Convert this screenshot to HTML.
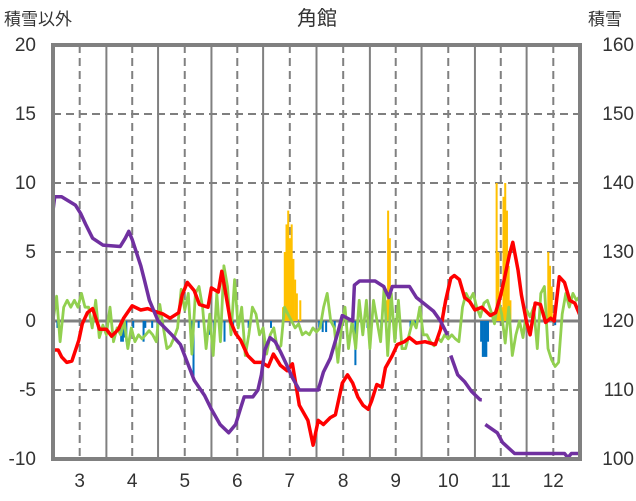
<!DOCTYPE html>
<html><head><meta charset="utf-8">
<style>
html,body{margin:0;padding:0;background:#fff;}
svg{display:block;font-family:"Liberation Sans","Noto Sans CJK JP",sans-serif;}
</style></head>
<body>
<svg id="chart" width="636" height="501" viewBox="0 0 636 501">
<g id="grid"></g>
<g id="bars"></g>
<g id="lines"></g>
<rect x="53" y="45" width="527" height="414" fill="none" stroke="#808080" stroke-width="4"/>
<g id="axes"></g>
<text x="317" y="25" font-size="20" text-anchor="middle" fill="#333">角館</text>
<text x="4" y="25" font-size="17" fill="#333">積雪以外</text>
<text x="588" y="25" font-size="17" fill="#333">積雪</text>
</svg>
<script>
const leftTicks=[20,15,10,5,0,-5,-10];
const rightTicks=[160,150,140,130,120,110,100];
const monthLabels=["3","4","5","6","7","8","9","10","11","12"];
const purpleDays=[0,1,5,13,16,19,23,29,39,42,44,46,51,53,56,61,65,69,74,78,82,88,92,97,102,106,109,111,116,119,121,123,126,129,132,135,139,143,154,157,161,165,168,174,175,178,187,192,195,197,200,207,211,216,221,225,229,null,231,235,239,243,248,249,null,251,258,261,268,297,299,301,306];
const purpleVals=[136,138,138,136.8,135.6,134,132,131,130.8,132,133,131.8,128,126,123,120,119,118,116.6,114,111.4,109.2,107.2,105,103.8,105,107.4,109,109,110,112.2,115.8,117.6,117,115.6,114,111.8,110,110,112.6,114.6,118,120.8,120,125.2,125.8,125.8,125,123.4,125,125,125,123.4,122.4,121.4,120,118,null,115,112.2,111.2,109.8,108.6,108.6,null,105,103.8,102.4,100.8,100.8,100.2,100.8,100.8];
const redDays=[0,3,5,8,11,15,17,20,23,27,31,34,38,41,46,51,55,59,64,68,73,75,78,82,85,90,92,96,98,100,103,106,109,113,117,121,125,128,132,136,139,143,148,151,154,157,161,164,168,171,174,177,180,183,185,188,191,193,197,200,204,207,211,216,222,225,228,231,233,236,239,242,245,249,254,257,260,262,265,267,270,272,275,277,280,283,286,289,291,294,297,300,303,306];
const redVals=[-2.1,-2.1,-2.6,-3,-2.9,-1.4,-0.2,0.6,0.9,-0.6,-0.6,-1.1,-0.6,0.2,1.1,0.8,0.9,0.7,0.5,0.2,0.6,1.9,2.8,2.2,1.2,1,2.4,2.1,3.6,2.2,0,-0.9,-1.4,-2.5,-3,-3,-3.3,-2.4,-3.2,-3.6,-3.1,-6.1,-7.2,-9,-7.2,-7.5,-7,-6.8,-4.5,-3.9,-4.5,-5.5,-6.1,-6.4,-5.8,-4.6,-4.8,-3.4,-2.5,-1.7,-1.5,-1.2,-1.6,-1.5,-1.7,-0.6,1.5,3.1,3.3,3,1.7,1.4,0.8,1,0.4,0.6,1.9,3,4.8,5.7,3.7,1.9,-0.1,-1,1.3,1.2,-0.1,0.2,0,3.2,2.8,1.5,1.3,0.4];
const greenVals=[0,1.8,-1.5,1,1.5,1,1.5,1,2,1,1,-0.5,1.5,-1.2,-0.3,-1,1,-1.5,-0.5,-1,0,-2,-0.5,-1.5,-1,-1.3,-1,-0.7,-1,-1.5,1.2,-0.5,-2,-1.8,-1.2,-0.5,2.3,0.8,2,-2.4,2,2.5,1,-2,0.5,-2.5,2,-1.5,4,2.5,-1,3,-0.5,1,-2.5,-1,1,0.5,-1,-0.5,-2.4,-1,-0.5,-2,-1.8,1,0.5,0,-0.5,-0.2,-1,-0.8,-1,-0.5,-0.8,-0.5,1,2,0,-0.5,-3,-0.5,1,-2,0,-2,1.5,-1,1.5,-2,1.5,0,-1.5,2.5,-2.5,2,-1.5,1.5,-2,-2,-1,0,-0.5,1,-1,-1,-1.5,-1.8,-1.2,-1.5,-1,-1.3,-1,-1.3,-1.5,1,2,1.5,2,1,0.3,1.3,1.5,0.7,-0.2,1.5,0.5,-1.6,1,-2.5,-1,0,-1.2,0.8,0.3,1,-2,2,2.5,-2,-2.8,-3.3,-3,0.5,2,1,2,1.5,1.8];
const yellowDays=[133,134,135,136,137,138,139,140,141,143,193,194,195,226,256,257,258,259,260,261,262,263,264,265,287,288,289];
const yellowVals=[1,5,7,8,6,7,4.5,3,2,1.5,1.5,8,6,1,0.5,10,5,2,1,9,10,8,4,1.5,5,4,2.5];
const blueDays=[2,39,40,41,42,46,52,53,57,60,80,81,84,90,93,96,99,104,113,126,154,156,158,163,167,170,175,179,182,190,207,210,248,249,250,251,252,291];
const blueVals=[-0.5,-1.5,-1.5,-1.2,-1.5,-0.5,-1.5,-0.5,-0.5,-0.5,-1,-4,-0.5,-1,-1.5,-0.5,-1.5,-0.5,-0.5,-0.5,-0.5,-0.8,-0.8,-0.5,-0.5,-0.8,-3.2,-0.8,-0.5,-0.5,-0.5,-0.5,-1.5,-2.6,-2.6,-2.6,-1.5,-0.3];

const NS="http://www.w3.org/2000/svg";
const X0=53,X1=580,Y0=45,Y1=459,TOTAL=306;
const xS=d=>X0+d*(X1-X0)/TOTAL;
const yL=v=>Y1-(v+10)*(Y1-Y0)/30;
const yR=v=>Y1-(v-100)*(Y1-Y0)/60;
function mk(tag,attrs,parent){const e=document.createElementNS(NS,tag);for(const k in attrs)e.setAttribute(k,attrs[k]);parent.appendChild(e);return e;}
const grid=document.getElementById('grid'),axes=document.getElementById('axes'),bars=document.getElementById('bars'),lines=document.getElementById('lines');
const monthStart=[0,31,61,92,122,153,184,214,245,275,306];
leftTicks.forEach(t=>{
  const y=yL(t);
  if(t!==20&&t!==-10){
    const l=mk('line',{x1:X0,x2:X1,y1:y,y2:y,stroke:t===0?'#808080':'#7f7f7f','stroke-width':t===0?3:2,'stroke-dasharray':t===0?'':'8,5'},grid);
    
    
  }
  const tx=mk('text',{x:36,y:y+6,'font-size':19,'text-anchor':'end',fill:'#333'},axes);
  tx.textContent=t;
  
  
});
rightTicks.forEach(t=>{
  const tx=mk('text',{x:634,y:yR(t)+6,'font-size':19,'text-anchor':'end',fill:'#333'},axes);
  tx.textContent=t;
  
  
});
for(let i=1;i<monthStart.length-1;i++){
  const x=xS(monthStart[i]);
  const l=mk('line',{x1:x,x2:x,y1:Y0,y2:Y1,stroke:'#808080','stroke-width':2},grid);
  
  
}
monthLabels.forEach((m,i)=>{
  const x=xS((monthStart[i]+monthStart[i+1])/2);
  const l=mk('line',{x1:x,x2:x,y1:Y0,y2:Y1,stroke:'#808080','stroke-width':2,'stroke-dasharray':'8,5'},grid);
  
  
  const tx=mk('text',{x:x,y:487,'font-size':19,'text-anchor':'middle',fill:'#333'},axes);
  tx.textContent=m;
  
  
});
const bw=(X1-X0)/TOTAL;
yellowDays.forEach((d,i)=>{
  const y=yL(yellowVals[i]);
  const r=mk('rect',{x:xS(d),y:y,width:bw+0.3,height:yL(0)-y,fill:'#FFC000'},bars);
  
  
});
blueDays.forEach((d,i)=>{
  const y=yL(blueVals[i]);
  const r=mk('rect',{x:xS(d),y:yL(0),width:bw+0.3,height:y-yL(0),fill:'#0070C0'},bars);
  
  
});
function path(days,vals,yf){
  let s='',pen=false;
  days.forEach((d,i)=>{
    if(d===null||vals[i]===null){pen=false;return;}
    s+=(pen?'L':'M')+xS(d).toFixed(1)+','+yf(vals[i]).toFixed(1);pen=true;
  });
  return s;
}
const gStep=TOTAL/(greenVals.length-1);
const greenDays=greenVals.map((v,i)=>i*gStep);
const g=mk('path',{d:path(greenDays,greenVals,yL),fill:'none',stroke:'#92D050','stroke-width':2.8,'stroke-linejoin':'round'},lines);


const r=mk('path',{d:path(redDays,redVals,yL),fill:'none',stroke:'#FF0000','stroke-width':3.5,'stroke-linejoin':'round'},lines);


const p=mk('path',{d:path(purpleDays,purpleVals,yR),fill:'none',stroke:'#7030A0','stroke-width':3.5,'stroke-linejoin':'round'},lines);


</script>
</body></html>
